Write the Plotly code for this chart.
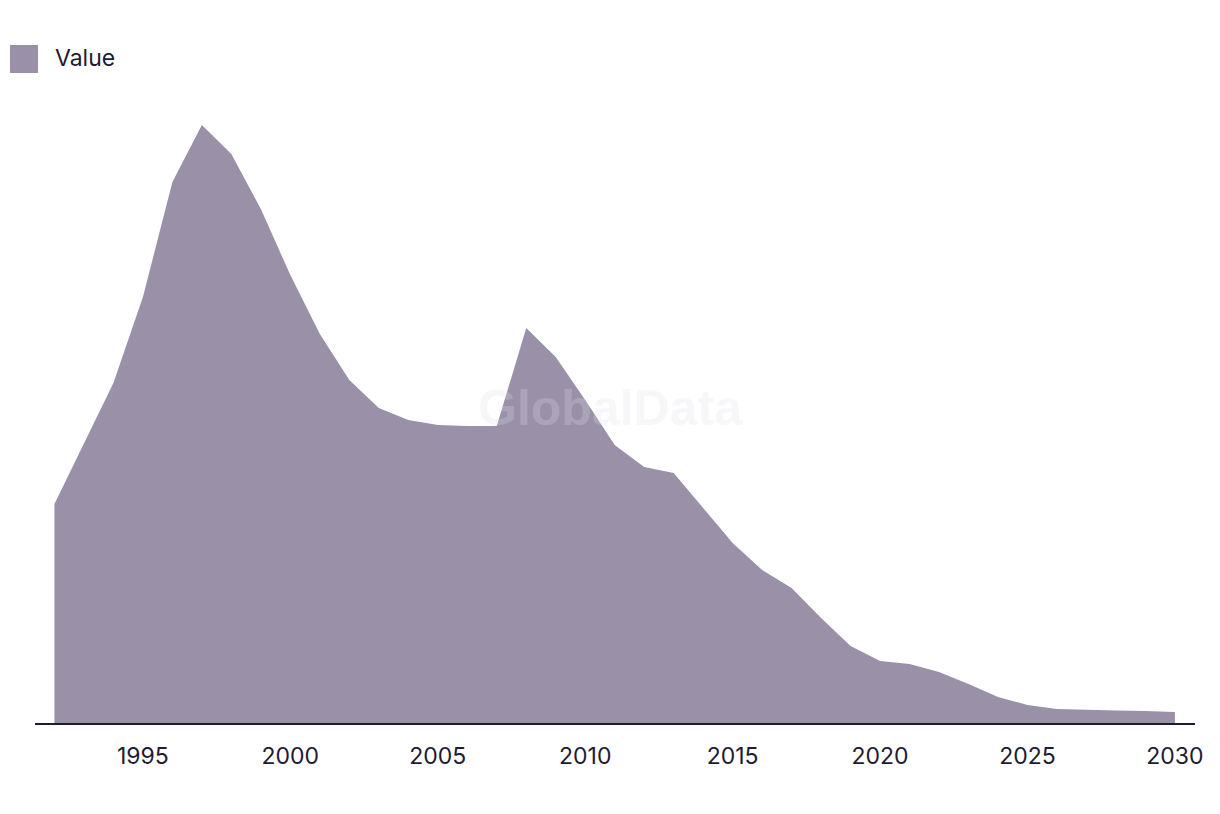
import plotly.graph_objects as go

years = list(range(1992, 2031))
values = [219, 280, 340, 426, 541, 598, 569, 514, 448, 389, 343, 315, 303, 298, 297, 297,
          395, 366, 323, 278, 256, 250, 215, 180, 153, 135, 105, 77, 62, 59, 51, 39, 26,
          18, 14, 13, 12.5, 12, 11]
tick_vals = [1995, 2000, 2005, 2010, 2015, 2020, 2025, 2030]
series_name = "Value"

FILL = "#9a91a9"
TEXT = "#1e1b33"

fig = go.Figure()
fig.add_trace(go.Scatter(
    x=years, y=values, mode="lines", fill="tozeroy",
    line=dict(color=FILL, width=0), fillcolor=FILL,
    name=series_name, showlegend=False, hoverinfo="x+y"))

fig.update_layout(
    width=1220, height=814,
    margin=dict(l=35, r=25, t=100, b=91),
    plot_bgcolor="white", paper_bgcolor="white",
    font=dict(family="Inter, Roboto, sans-serif", color=TEXT, size=21),
    xaxis=dict(range=[1991.34, 2030.68], tickvals=tick_vals, showgrid=False,
               zeroline=False, showline=True, linecolor=TEXT, linewidth=2,
               ticks="", ticklabelstandoff=11, tickfont=dict(size=23, color=TEXT)),
    yaxis=dict(range=[0, 623], visible=False, showgrid=False, zeroline=False),
    showlegend=False,
)

# legend swatch + label
fig.add_shape(type="rect", xref="paper", yref="paper",
              x0=-25/1160, x1=3/1160, y0=1 + 27/623, y1=1 + 55/623,
              fillcolor=FILL, line=dict(width=0))
fig.add_annotation(text=series_name, xref="paper", yref="paper",
                   x=18/1160, y=1 + 42/623, xanchor="left", yanchor="middle",
                   showarrow=False, font=dict(size=23, color=TEXT))

# watermark
fig.add_annotation(text="<b>GlobalData</b>", xref="paper", yref="paper",
                   x=(610 - 35) / 1160, y=(723 - 408) / 623, xanchor="center", yanchor="middle",
                   showarrow=False,
                   font=dict(size=50, color="rgba(225,225,230,0.25)",
                             family="Liberation Sans, Arial, sans-serif"))

fig.write_html("out.html")
